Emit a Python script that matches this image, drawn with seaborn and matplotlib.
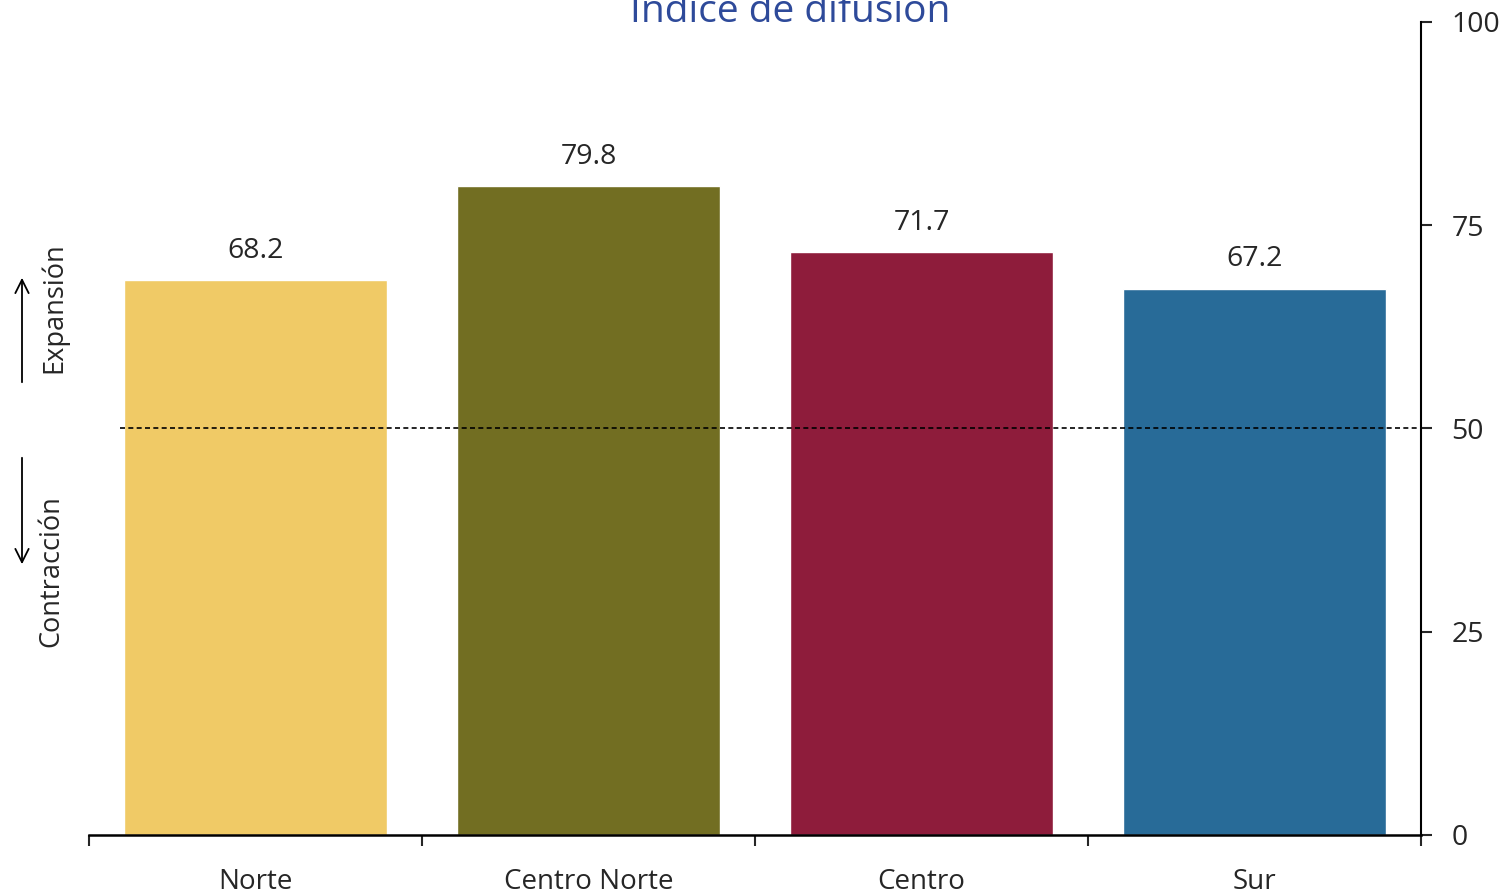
import pandas as pd
import numpy as np
import matplotlib
matplotlib.use("Agg")
import matplotlib.pyplot as plt
import seaborn as sns

regiones = ["Norte", "Centro Norte", "Centro", "Sur"]
valores = [68.2, 79.8, 71.7, 67.2]
colores = ["#F0CA66", "#726E22", "#8E1C3B", "#286B98"]
yticks = [0, 25, 50, 75, 100]

df = pd.DataFrame({"region": regiones, "valor": valores})

sns.set_style("white")
plt.rcParams["font.family"] = ["Open Sans", "DejaVu Sans"]

fig = plt.figure(figsize=(15.03, 8.93), dpi=100)
ax = fig.add_axes([0.0592, 0.065, 0.8862, 0.9104])

sns.barplot(data=df, x="region", y="valor", hue="region", palette=colores,
            width=0.79, saturation=1, legend=False, ax=ax)

for i, v in enumerate(valores):
    ax.text(i, v + 1.9, f"{v:.1f}", ha="center", va="bottom", fontsize=20.5)

# linea de referencia en 50
ax.axhline(50, xmin=0.023, xmax=1, color="black", ls=(0, (3, 2)), lw=1.2)

ax.set_xlim(-0.5, 3.5)
ax.set_ylim(0, 100)
ax.yaxis.tick_right()
ax.set_yticks(yticks)
ax.set_yticklabels([str(t) for t in yticks], fontsize=20.5)
ax.tick_params(axis="y", direction="out", length=8, width=1.5, pad=14)

# ticks en los bordes de las categorias, etiquetas al centro
ax.set_xticks(np.arange(-0.5, 4, 1))
ax.set_xticklabels([])
ax.set_xticks(np.arange(len(regiones)), minor=True)
ax.set_xticklabels(regiones, minor=True, fontsize=20)
ax.tick_params(axis="x", which="major", bottom=True, direction="out", length=8, width=1.5)
ax.tick_params(axis="x", which="minor", bottom=True, length=0, pad=24)

for s in ["top", "left"]:
    ax.spines[s].set_visible(False)
ax.spines["bottom"].set_linewidth(1.8)
ax.spines["right"].set_linewidth(1.5)
ax.spines["bottom"].set_color("black")
ax.spines["right"].set_color("black")
ax.set_xlabel("")
ax.set_ylabel("")

fig.text(790 / 1503, 1 - 22 / 893, "Índice de difusión", ha="center", va="baseline",
         fontsize=28, color="#2E4A9A")

# flechas de expansion / contraccion
fig.patches.append(matplotlib.patches.FancyArrowPatch(
    (22 / 1503, 1 - 385 / 893), (22 / 1503, 1 - 275 / 893), transform=fig.transFigure,
    arrowstyle="->", mutation_scale=24, lw=1.3, color="black"))
fig.patches.append(matplotlib.patches.FancyArrowPatch(
    (22 / 1503, 1 - 455 / 893), (22 / 1503, 1 - 567 / 893), transform=fig.transFigure,
    arrowstyle="->", mutation_scale=24, lw=1.3, color="black"))
fig.text(54 / 1503, 1 - 308 / 893, "Expansión", rotation=90, ha="center", va="center", fontsize=19.5)
fig.text(51 / 1503, 1 - 571 / 893, "Contracción", rotation=90, ha="center", va="center", fontsize=19.5)

fig.savefig("out.png", dpi=100)
